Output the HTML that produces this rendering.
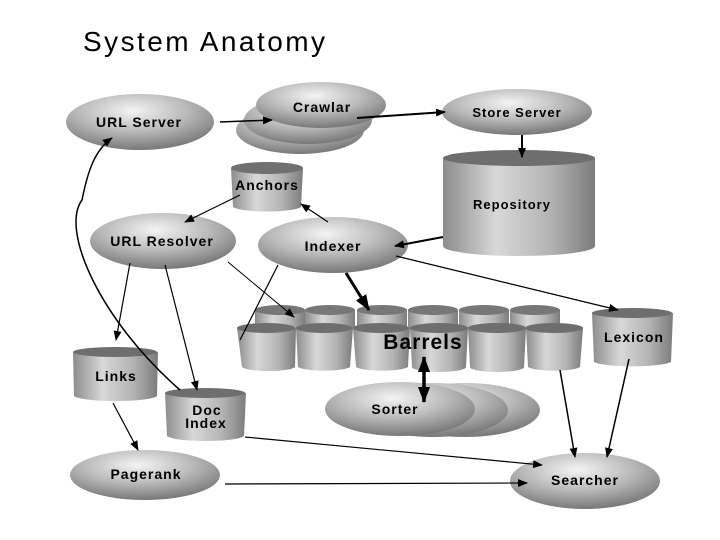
<!DOCTYPE html>
<html><head><style>
html,body{margin:0;padding:0;background:#fff;width:720px;height:540px;overflow:hidden}
svg{display:block}
text{font-family:"Liberation Sans",Arial,sans-serif;font-weight:bold;fill:#000;letter-spacing:1px}
</style></head><body>
<svg width="720" height="540" viewBox="0 0 720 540" xmlns="http://www.w3.org/2000/svg">
<defs>
<radialGradient id="eg" cx="0.45" cy="0.3" r="0.75">
<stop offset="0" stop-color="#f4f4f4"/><stop offset="0.5" stop-color="#b8b8b8"/><stop offset="1" stop-color="#6e6e6e"/>
</radialGradient>
<linearGradient id="cg" x1="0" x2="1" y1="0" y2="0">
<stop offset="0" stop-color="#8c8c8c"/><stop offset="0.35" stop-color="#d8d8d8"/><stop offset="0.7" stop-color="#b4b4b4"/><stop offset="1" stop-color="#7c7c7c"/>
</linearGradient>
<marker id="ah" markerWidth="10" markerHeight="8" refX="9" refY="4" orient="auto" markerUnits="userSpaceOnUse">
<path d="M0,0 L10,4 L0,8 z" fill="#000"/></marker>
<marker id="ahb" markerWidth="16" markerHeight="12" refX="15" refY="6" orient="auto" markerUnits="userSpaceOnUse">
<path d="M0,0 L16,6 L0,12 z" fill="#000"/></marker>
<marker id="ahs" markerWidth="16" markerHeight="12" refX="1" refY="6" orient="auto" markerUnits="userSpaceOnUse">
<path d="M16,0 L0,6 L16,12 z" fill="#000"/></marker>
</defs>

<text x="83" y="51" textLength="242" style="font-weight:normal;font-size:28px;letter-spacing:0">System Anatomy</text>

<!-- Crawler stack -->
<ellipse cx="300" cy="130" rx="64" ry="24" fill="url(#eg)"/>
<ellipse cx="308" cy="120" rx="64" ry="24" fill="url(#eg)"/>
<ellipse cx="321" cy="105" rx="65" ry="23" fill="url(#eg)"/>
<text x="322" y="112" font-size="14" text-anchor="middle">Crawlar</text>

<ellipse cx="140" cy="122" rx="74" ry="28" fill="url(#eg)"/>
<text x="139" y="127" font-size="14" text-anchor="middle">URL Server</text>

<ellipse cx="517" cy="112" rx="75" ry="23" fill="url(#eg)"/>
<text x="517" y="117" font-size="13" text-anchor="middle">Store Server</text>

<!-- Repository -->
<path d="M443,158 L443,246 A76,10 0 0 0 595,246 L595,158 Z" fill="url(#cg)"/>
<ellipse cx="519" cy="158" rx="76" ry="8" fill="#6e6e6e"/>
<text x="512" y="209" font-size="13" text-anchor="middle">Repository</text>

<!-- Anchors -->
<path d="M231,168 L233,207 A35,6 0 0 0 301,207 L303,168 Z" fill="url(#cg)"/>
<ellipse cx="267" cy="168" rx="36" ry="6" fill="#707070"/>
<text x="267" y="190" font-size="14" text-anchor="middle">Anchors</text>

<ellipse cx="163" cy="241" rx="73" ry="28" fill="url(#eg)"/>
<text x="162" y="246" font-size="14" text-anchor="middle">URL Resolver</text>

<ellipse cx="333" cy="245" rx="75" ry="28" fill="url(#eg)"/>
<text x="333" y="251" font-size="14" text-anchor="middle">Indexer</text>

<!-- Barrels back row -->
<g fill="url(#cg)">
<path d="M255,310 h50 v20 h-50z"/><path d="M305,310 h50 v20 h-50z"/><path d="M357,310 h50 v20 h-50z"/>
<path d="M408,310 h50 v20 h-50z"/><path d="M459,310 h50 v20 h-50z"/><path d="M510,310 h50 v20 h-50z"/>
</g>
<g fill="#777">
<ellipse cx="280" cy="310" rx="25" ry="5"/><ellipse cx="330" cy="310" rx="25" ry="5"/><ellipse cx="382" cy="310" rx="25" ry="5"/>
<ellipse cx="433" cy="310" rx="25" ry="5"/><ellipse cx="484" cy="310" rx="25" ry="5"/><ellipse cx="535" cy="310" rx="25" ry="5"/>
</g>
<!-- front row -->
<g fill="url(#cg)">
<path d="M237,328 L242,367 A27,5 0 0 0 295,367 L296,328Z"/>
<path d="M296,328 L298,367 A27,5 0 0 0 350,367 L353,328Z"/>
<path d="M353,328 L356,367 A27,5 0 0 0 408,367 L410,328Z"/>
<path d="M410,328 L412,367 A27,5 0 0 0 466,367 L468,328Z"/>
<path d="M468,328 L470,367 A27,5 0 0 0 524,367 L526,328Z"/>
<path d="M526,328 L528,367 A27,5 0 0 0 580,367 L583,328Z"/>
</g>
<g fill="#6e6e6e">
<ellipse cx="266" cy="328" rx="29" ry="5"/><ellipse cx="324" cy="328" rx="28" ry="5"/><ellipse cx="381" cy="328" rx="28" ry="5"/>
<ellipse cx="439" cy="328" rx="29" ry="5"/><ellipse cx="497" cy="328" rx="29" ry="5"/><ellipse cx="554" cy="328" rx="29" ry="5"/>
</g>
<text x="423" y="349" font-size="21" text-anchor="middle">Barrels</text>

<!-- Lexicon -->
<path d="M592,313 L594,362 A40,6 0 0 0 671,362 L673,313Z" fill="url(#cg)"/>
<ellipse cx="632" cy="313" rx="40" ry="5" fill="#6e6e6e"/>
<text x="634" y="342" font-size="14" text-anchor="middle">Lexicon</text>

<!-- Links -->
<path d="M73,352 L74,396 A42,6 0 0 0 157,396 L158,352Z" fill="url(#cg)"/>
<ellipse cx="115" cy="352" rx="42" ry="5" fill="#6e6e6e"/>
<text x="116" y="381" font-size="14" text-anchor="middle">Links</text>

<!-- Doc Index -->
<path d="M165,393 L167,436 A39,6 0 0 0 244,436 L246,393Z" fill="url(#cg)"/>
<ellipse cx="205" cy="393" rx="40" ry="5" fill="#6e6e6e"/>
<text x="207" y="415" font-size="14" text-anchor="middle">Doc</text>
<text x="206" y="428" font-size="14" text-anchor="middle">Index</text>

<!-- Sorter -->
<ellipse cx="465" cy="410" rx="75" ry="27" fill="url(#eg)"/>
<ellipse cx="433" cy="410" rx="75" ry="27" fill="url(#eg)"/>
<ellipse cx="400" cy="409" rx="75" ry="27" fill="url(#eg)"/>
<text x="395" y="414" font-size="14" text-anchor="middle">Sorter</text>

<ellipse cx="145" cy="475" rx="75" ry="25" fill="url(#eg)"/>
<text x="146" y="479" font-size="14" text-anchor="middle">Pagerank</text>

<ellipse cx="585" cy="481" rx="75" ry="28" fill="url(#eg)"/>
<text x="585" y="485" font-size="14" text-anchor="middle">Searcher</text>

<!-- connectors -->
<g stroke="#000" fill="none">
<line x1="220" y1="122" x2="272" y2="120" stroke-width="1.5" marker-end="url(#ah)"/>
<line x1="357" y1="118" x2="445" y2="112" stroke-width="2" marker-end="url(#ah)"/>
<line x1="522" y1="135" x2="522" y2="157" stroke-width="2" marker-end="url(#ah)"/>
<line x1="443" y1="237" x2="395" y2="246" stroke-width="2" marker-end="url(#ah)"/>
<line x1="328" y1="222" x2="301" y2="204" stroke-width="1.2" marker-end="url(#ah)"/>
<line x1="240" y1="195" x2="185" y2="222" stroke-width="1.2" marker-end="url(#ah)"/>
<line x1="396" y1="256" x2="618" y2="310" stroke-width="1.2" marker-end="url(#ah)"/>
<line x1="346" y1="273" x2="369" y2="310" stroke-width="3" marker-end="url(#ahb)"/>
<line x1="278" y1="265" x2="240" y2="340" stroke-width="1.2"/>
<line x1="228" y1="262" x2="294" y2="317" stroke-width="1" marker-end="url(#ah)"/>
<line x1="130" y1="263" x2="116" y2="340" stroke-width="1.2" marker-end="url(#ah)"/>
<line x1="165" y1="265" x2="197" y2="390" stroke-width="1.2" marker-end="url(#ah)"/>
<path d="M180,390 C100,320 60,230 82,200 C88,170 95,150 112,138" stroke-width="1.5" marker-end="url(#ah)"/>
<line x1="113" y1="403" x2="138" y2="450" stroke-width="1.2" marker-end="url(#ah)"/>
<line x1="245" y1="437" x2="542" y2="465" stroke-width="1.2" marker-end="url(#ah)"/>
<line x1="225" y1="484" x2="527" y2="483" stroke-width="1.2" marker-end="url(#ah)"/>
<line x1="560" y1="370" x2="575" y2="457" stroke-width="1.5" marker-end="url(#ah)"/>
<line x1="629" y1="359" x2="607" y2="457" stroke-width="1.5" marker-end="url(#ah)"/>
<line x1="424" y1="357" x2="424" y2="402" stroke-width="3.5" marker-start="url(#ahs)" marker-end="url(#ahb)"/>
</g>
</svg>
</body></html>
